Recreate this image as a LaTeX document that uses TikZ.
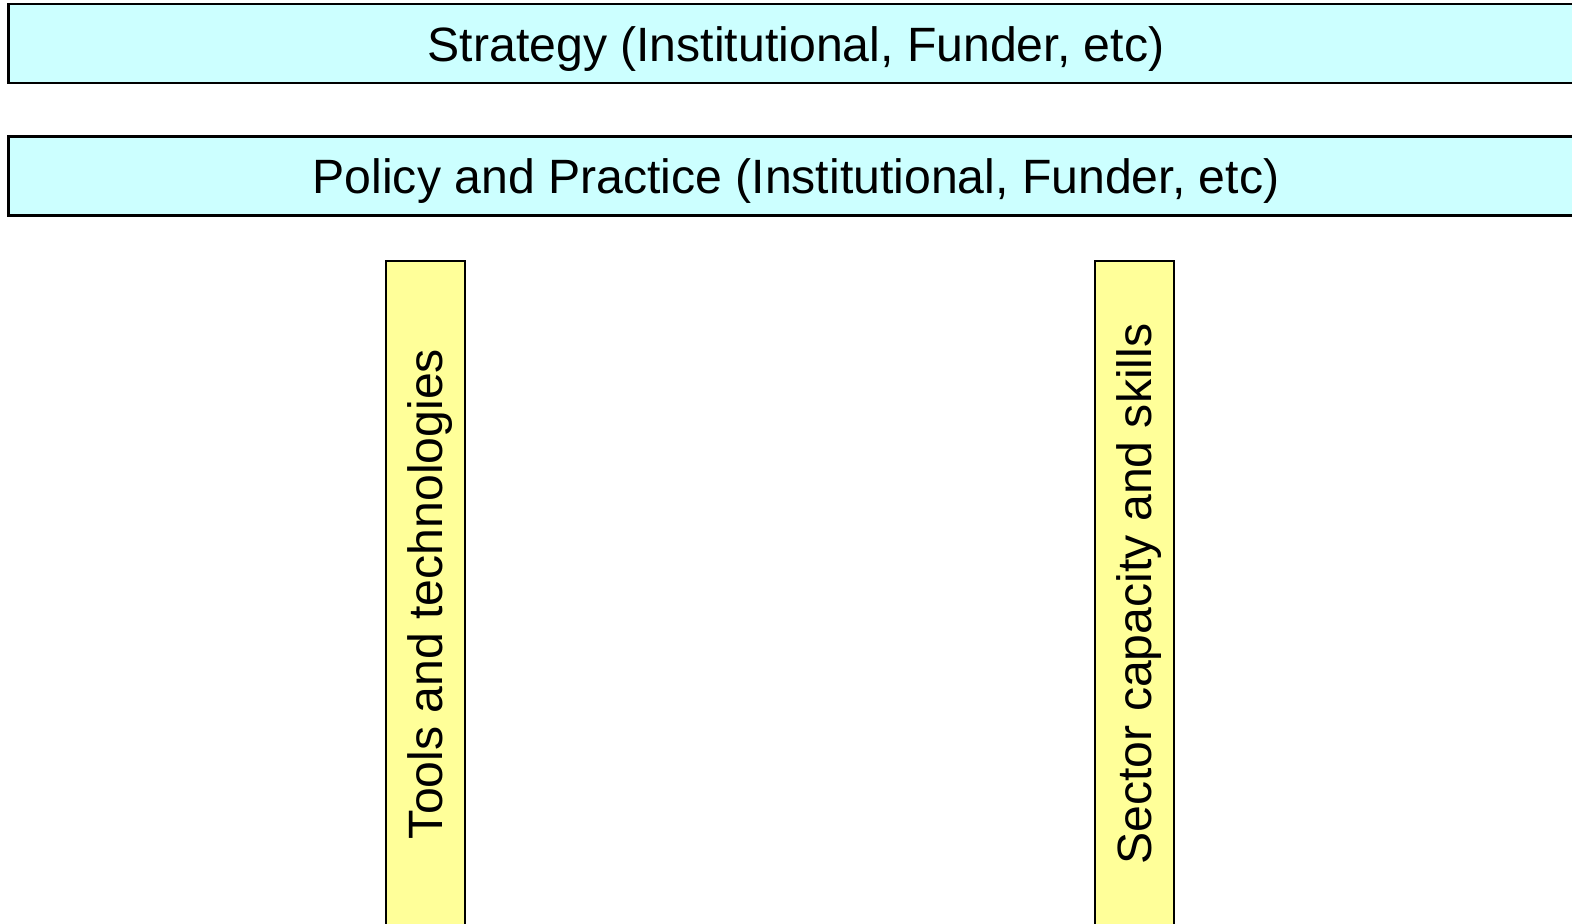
\documentclass[tikz,border=0pt]{standalone}
\usepackage{fontspec}
\setmainfont{Liberation Sans}
\definecolor{bandcyan}{HTML}{CCFFFF}
\definecolor{pillaryellow}{HTML}{FFFF99}
\tikzset{
  band/.style={draw=black,line width=0.6pt,fill=bandcyan,minimum width=15.74cm,minimum height=0.79cm,inner sep=0pt,text height=1.22em,text depth=0.21em,font=\fontsize{13.7}{16}\selectfont},
  pillar/.style={draw=black,line width=0.6pt,fill=pillaryellow,minimum width=0.79cm,minimum height=6.66cm,inner sep=0pt,font=\fontsize{13.7}{16}\selectfont}
}
\begin{document}
\begin{tikzpicture}[x=0.01cm,y=-0.01cm]
\useasboundingbox (0,0) rectangle (1572,923);
\clip (0,0) rectangle (1572,923);

\node[band] (strategy) at (796,43.5) {Strategy (Institutional, Funder, etc)};
\node[band] (policy) at (796,176) {Policy and Practice (Institutional, Funder, etc)};

\node[pillar] (tools) at (425.5,594) {\hspace*{0.1cm}\rotatebox{90}{Tools and technologies}};
\node[pillar] (sector) at (1134.5,594) {\hspace*{0.1cm}\rotatebox{90}{Sector capacity and skills}};

\end{tikzpicture}
\end{document}
